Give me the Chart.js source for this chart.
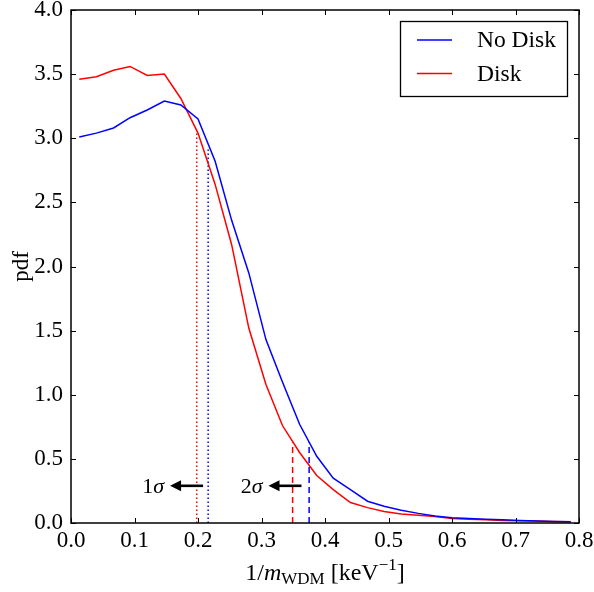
<!DOCTYPE html>
<html>
<head>
<meta charset="utf-8">
<script src="https://cdn.jsdelivr.net/npm/chart.js@4/dist/chart.umd.min.js"></script>
<style>
  html, body { margin: 0; padding: 0; background: #fff; }
  #wrap { width: 594px; height: 592px; }
</style>
</head>
<body>
<div id="wrap"><canvas id="c" width="594" height="592"></canvas></div>
<script>
// bin centres of the pdf histogram
const xVals = [0.013, 0.040, 0.067, 0.093, 0.120, 0.147, 0.173, 0.200, 0.227, 0.253,
  0.280, 0.307, 0.333, 0.360, 0.387, 0.413, 0.440, 0.467, 0.493, 0.520,
  0.547, 0.573, 0.600, 0.627, 0.653, 0.680, 0.707, 0.733, 0.760, 0.787];
const noDisk = [3.01, 3.04, 3.08, 3.16, 3.22, 3.29, 3.26, 3.15, 2.82, 2.36,
  1.95, 1.43, 1.10, 0.77, 0.52, 0.35, 0.26, 0.17, 0.13, 0.10,
  0.075, 0.055, 0.04, 0.035, 0.03, 0.025, 0.02, 0.015, 0.012, 0.01];
const disk = [3.46, 3.48, 3.53, 3.56, 3.49, 3.50, 3.31, 3.04, 2.64, 2.17,
  1.52, 1.08, 0.76, 0.55, 0.37, 0.26, 0.16, 0.12, 0.09, 0.07,
  0.06, 0.05, 0.035, 0.03, 0.025, 0.02, 0.018, 0.015, 0.012, 0.01];

// limits: [No Disk, Disk]
const oneSigmaX = [0.216, 0.198];
const oneSigmaTop = [2.92, 3.04];
const twoSigmaX = [0.375, 0.349];
const twoSigmaTop = [0.63, 0.63];

// arrow annotations
const arrowLabels = ["1", "2"];
const arrowFrom = [0.208, 0.363];
const arrowTo = [0.156, 0.311];
const arrowY = 0.29;

const xTicks = [0, 0.1, 0.2, 0.3, 0.4, 0.5, 0.6, 0.7, 0.8];
const yTicks = [0, 0.5, 1, 1.5, 2, 2.5, 3, 3.5, 4];

const SERIF = "'Liberation Serif', 'DejaVu Serif', serif";
const BLUE = "#0000ff";
const RED = "#ff0000";

const pts = (ys) => xVals.map((x, i) => ({ x: x, y: ys[i] }));
const vline = (x, top) => [{ x: x, y: 0 }, { x: x, y: top }];

const decor = {
  id: "decor",
  afterDatasetsDraw(chart) {
    const ctx = chart.ctx;
    const a = chart.chartArea;
    const xs = chart.scales.x, ys = chart.scales.y;
    ctx.save();
    // frame
    ctx.strokeStyle = "#000";
    ctx.lineWidth = 1.5;
    ctx.strokeRect(a.left, a.top, a.right - a.left, a.bottom - a.top);
    // inward ticks on all four sides
    ctx.lineWidth = 1;
    ctx.beginPath();
    xTicks.forEach((t) => {
      const px = Math.round(xs.getPixelForValue(t)) + 0.5;
      ctx.moveTo(px, a.bottom); ctx.lineTo(px, a.bottom - 5);
      ctx.moveTo(px, a.top); ctx.lineTo(px, a.top + 5);
    });
    yTicks.forEach((t) => {
      const py = Math.round(ys.getPixelForValue(t)) + 0.5;
      ctx.moveTo(a.left, py); ctx.lineTo(a.left + 5, py);
      ctx.moveTo(a.right, py); ctx.lineTo(a.right - 5, py);
    });
    ctx.stroke();

    // arrows with sigma labels
    ctx.fillStyle = "#000";
    ctx.strokeStyle = "#000";
    arrowLabels.forEach((lab, i) => {
      const x0 = xs.getPixelForValue(arrowFrom[i]);
      const x1 = xs.getPixelForValue(arrowTo[i]);
      const y = ys.getPixelForValue(arrowY);
      ctx.lineWidth = 2.6;
      ctx.beginPath();
      ctx.moveTo(x0, y); ctx.lineTo(x1 + 8, y);
      ctx.stroke();
      ctx.beginPath();
      ctx.moveTo(x1, y);
      ctx.lineTo(x1 + 11, y - 5.5);
      ctx.lineTo(x1 + 11, y + 5.5);
      ctx.closePath();
      ctx.fill();
      ctx.textBaseline = "middle";
      ctx.textAlign = "left";
      ctx.font = "italic 22px " + SERIF;
      const wS = ctx.measureText("\u03c3").width;
      ctx.font = "22px " + SERIF;
      const wN = ctx.measureText(lab).width;
      const right = x1 - 6;
      ctx.fillText(lab, right - wS - wN, y + 1);
      ctx.font = "italic 22px " + SERIF;
      ctx.fillText("\u03c3", right - wS, y + 1);
    });

    // legend
    const lx = 400.5, ly = 21.5, lw = 167, lh = 75;
    ctx.fillStyle = "#fff";
    ctx.fillRect(lx, ly, lw, lh);
    ctx.strokeStyle = "#000";
    ctx.lineWidth = 1.3;
    ctx.strokeRect(lx, ly, lw, lh);
    chart.data.datasets.slice(0, 2).forEach((ds, i) => {
      const yy = 40 + i * 33.5;
      ctx.strokeStyle = ds.borderColor;
      ctx.lineWidth = 1.5;
      ctx.beginPath();
      ctx.moveTo(417, yy); ctx.lineTo(452, yy);
      ctx.stroke();
      ctx.fillStyle = "#000";
      ctx.font = "23.5px " + SERIF;
      ctx.textAlign = "left";
      ctx.textBaseline = "middle";
      ctx.fillText(ds.label, 477, yy + 1);
    });

    // x axis title: 1/m_WDM [keV^-1]
    const parts = [
      ["1/", "24px " + SERIF, 0],
      ["m", "italic 24px " + SERIF, 0],
      ["WDM", "17px " + SERIF, 4],
      [" [keV", "24px " + SERIF, 0],
      ["\u22121", "17px " + SERIF, -10],
      ["]", "24px " + SERIF, 0]
    ];
    let total = 0;
    parts.forEach((p) => { ctx.font = p[1]; total += ctx.measureText(p[0]).width; });
    let cx = (a.left + a.right) / 2 - total / 2;
    ctx.fillStyle = "#000";
    ctx.textBaseline = "alphabetic";
    ctx.textAlign = "left";
    parts.forEach((p) => {
      ctx.font = p[1];
      ctx.fillText(p[0], cx, 580 + p[2]);
      cx += ctx.measureText(p[0]).width;
    });

    // y axis title
    ctx.translate(22, (a.top + a.bottom) / 2);
    ctx.rotate(-Math.PI / 2);
    ctx.font = "23px " + SERIF;
    ctx.textAlign = "center";
    ctx.textBaseline = "middle";
    ctx.fillText("pdf", 0, 0);
    ctx.restore();
  }
};

const lineStyle = { fill: false, pointRadius: 0, tension: 0, borderWidth: 1.5 };

new Chart(document.getElementById("c"), {
  type: "line",
  data: {
    datasets: [
      Object.assign({ label: "No Disk", data: pts(noDisk), borderColor: BLUE }, lineStyle),
      Object.assign({ label: "Disk", data: pts(disk), borderColor: RED }, lineStyle),
      Object.assign({ label: "nd1", data: vline(oneSigmaX[0], oneSigmaTop[0]), borderColor: BLUE, borderDash: [1.5, 2.5] }, lineStyle),
      Object.assign({ label: "d1", data: vline(oneSigmaX[1], oneSigmaTop[1]), borderColor: RED, borderDash: [1.5, 2.5] }, lineStyle),
      Object.assign({ label: "nd2", data: vline(twoSigmaX[0], twoSigmaTop[0]), borderColor: BLUE, borderDash: [6, 4] }, lineStyle),
      Object.assign({ label: "d2", data: vline(twoSigmaX[1], twoSigmaTop[1]), borderColor: RED, borderDash: [6, 4] }, lineStyle)
    ]
  },
  options: {
    responsive: false,
    devicePixelRatio: 1,
    animation: false,
    layout: { padding: { top: 10, right: 15, left: 0, bottom: 0 } },
    plugins: { legend: { display: false }, tooltip: { enabled: false } },
    scales: {
      x: {
        type: "linear",
        min: 0,
        max: 0.8,
        grid: { display: false, drawTicks: false },
        border: { display: false },
        ticks: {
          stepSize: 0.1,
          autoSkip: false,
          maxRotation: 0,
          padding: 4,
          color: "#000",
          font: { family: SERIF, size: 23 },
          callback: (v) => v.toFixed(1)
        },
        afterFit: (s) => { s.height = 69; s.paddingLeft = 0; s.paddingRight = 0; }
      },
      y: {
        min: 0,
        max: 4,
        grid: { display: false, drawTicks: false },
        border: { display: false },
        ticks: {
          stepSize: 0.5,
          padding: 8,
          color: "#000",
          font: { family: SERIF, size: 23 },
          callback: (v) => v.toFixed(1)
        },
        afterFit: (s) => { s.width = 71; s.paddingTop = 0; s.paddingBottom = 0; }
      }
    }
  },
  plugins: [decor]
});
</script>
</body>
</html>
